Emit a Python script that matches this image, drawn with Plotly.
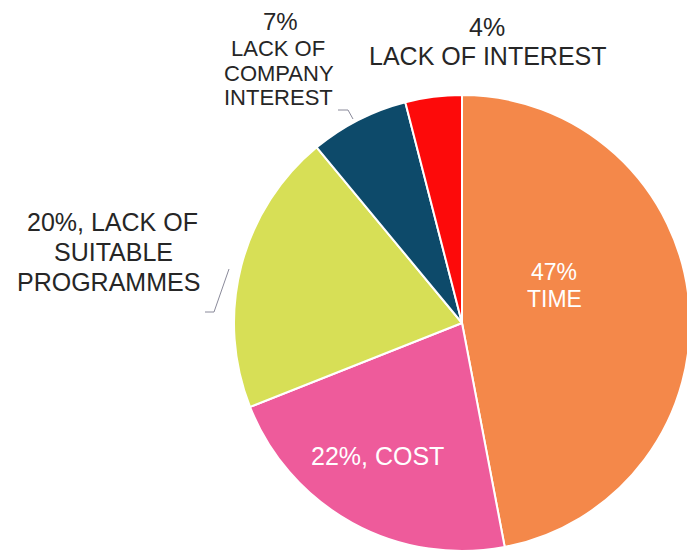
import plotly.graph_objects as go

categories = ["TIME", "COST", "LACK OF SUITABLE PROGRAMMES", "LACK OF COMPANY INTEREST", "LACK OF INTEREST"]
values = [47, 22, 20, 7, 4]
colors = ["#F4884A", "#EE5B9B", "#D7DF56", "#0D4A6A", "#FD0A0A"]

W, H = 695, 551
OFF = 8  # page body margin offset

def px(x):
    return (x - OFF) / W

def py(y):
    return 1 - (y - OFF) / H

# pie placement (center 462,323 ; radius 228 in page px)
cx, cy, r = 462, 323, 228

fig = go.Figure(go.Pie(
    labels=categories,
    values=values,
    marker=dict(colors=colors, line=dict(color="white", width=2)),
    sort=False,
    direction="clockwise",
    rotation=0,
    textinfo="none",
    hoverinfo="label+percent",
    domain=dict(x=[px(cx - r), px(cx + r)], y=[py(cy + r), py(cy - r)]),
    showlegend=False,
))

FONT = "Arial, Liberation Sans, sans-serif"
dark = "#262626"

def ann(text, x, y, size, color=dark):
    fig.add_annotation(text=text, x=px(x), y=py(y), xref="paper", yref="paper",
                       xanchor="center", yanchor="middle", showarrow=False,
                       font=dict(family=FONT, size=size, color=color))

# labels
ann(f"{values[0]}%", 554, 272, 23, "white")
ann(categories[0], 554, 299, 23, "white")
ann(f"{values[1]}%, {categories[1]}", 377, 456, 25, "white")
ann(f"{values[2]}%, LACK OF", 112, 222, 25)
ann("SUITABLE", 113, 252, 25)
ann("PROGRAMMES", 108, 282, 25)
ann(f"{values[3]}%", 280, 21, 24)
ann("LACK OF", 278, 48, 22)
ann("COMPANY", 279, 73, 22)
ann("INTEREST", 278, 97, 22)
ann(f"{values[4]}%", 487, 27, 25)
ann(categories[4], 488, 56, 25)

# leader lines
fig.add_shape(type="path", xref="paper", yref="paper",
              path=f"M {px(338)} {py(110)} L {px(348)} {py(110)} L {px(353)} {py(119)}",
              line=dict(color="#8a8a9a", width=1))
fig.add_shape(type="path", xref="paper", yref="paper",
              path=f"M {px(229)} {py(269)} L {px(214)} {py(312)} L {px(205)} {py(312)}",
              line=dict(color="#8a8a9a", width=1))

fig.update_layout(
    width=W, height=H,
    margin=dict(l=0, r=0, t=0, b=0),
    paper_bgcolor="white",
    plot_bgcolor="white",
)

fig.write_html("out.html")
